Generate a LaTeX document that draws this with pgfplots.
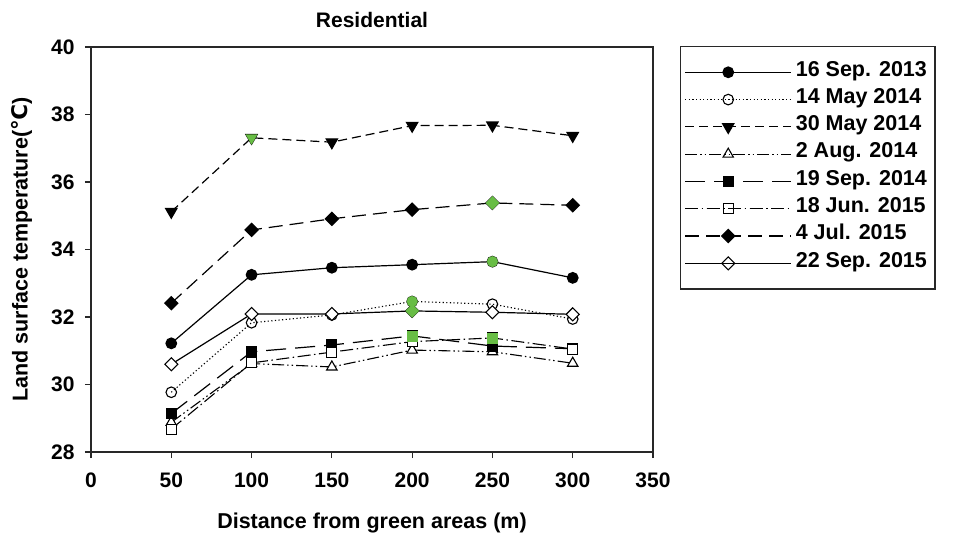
\documentclass[border=0pt]{standalone}
\usepackage{pgfplots}
\pgfplotsset{compat=1.18}
\usepackage{fontspec}
\setmainfont{Liberation Sans}
\newfontfamily\dejavu{DejaVu Sans}
\definecolor{lgreen}{RGB}{104,189,69}
\definecolor{axgray}{RGB}{40,40,40}
\begin{document}
\begin{tikzpicture}
\useasboundingbox (-91pt,-84pt) rectangle (869pt,452pt);
\begin{axis}[
  scale only axis, width=562pt, height=405pt,
  at={(0pt,0pt)}, anchor=south west,
  xmin=0, xmax=350, ymin=28, ymax=40,
  xtick={0,50,...,350}, ytick={28,30,...,40},
  axis line style={line width=1.3pt, axgray},
  tick style={line width=1.1pt, axgray},
  tick align=outside, xtick pos=bottom, ytick pos=left,
  major tick length=6pt,
  /pgf/number format/assume math mode=true,
  ticklabel style={font=\fontsize{21}{25}\selectfont\bfseries},
  xticklabel style={yshift=-11pt},
  yticklabel style={xshift=-7pt},
  xlabel={Distance from green areas (m)},
  ylabel={Land surface temperature({\dejavu\bfseries ℃})},
  label style={font=\fontsize{21.5}{25}\selectfont\bfseries},
  xlabel style={at={(axis description cs:0.5,-0.176)}, anchor=center},
  ylabel style={at={(axis description cs:-0.123,0.5)}, anchor=center},
  title={Residential},
  title style={font=\fontsize{21}{25}\selectfont\bfseries, at={(axis description cs:0.5,1)}, anchor=center, yshift=21pt},
  legend style={at={(axis description cs:1.048,1.0025)}, anchor=north west,
    draw=axgray, line width=1.3pt, inner xsep=4pt, inner ysep=12pt,
    font=\fontsize{21.5}{25}\selectfont\bfseries,
    nodes={text height=15pt, text depth=7.5pt, inner ysep=2.4pt, inner xsep=4pt},
    row sep=0pt},
  legend cell align=left,
  legend image code/.code={\draw[#1, mark repeat=2, mark phase=2] plot coordinates {(0pt,0pt) (43pt,0pt) (86pt,0pt)};
    \path (0pt,0pt) -- (106pt,0pt);},
  clip=false,
]
% 16 Sep 2013
\addplot[black, line width=1.2pt, solid, mark=*, mark size=5.3pt, mark options={solid}]
  coordinates {(50,31.22) (100,33.25) (150,33.46) (200,33.55) (250,33.64) (300,33.16)};
\addlegendentry{16 Sep. 2013}
% 14 May 2014
\addplot[black, line width=1.1pt, dash pattern=on 1.2pt off 2.4pt, mark=o, mark size=5.3pt, mark options={solid, fill=white, line width=1.1pt}]
  coordinates {(50,29.77) (100,31.83) (150,32.06) (200,32.46) (250,32.38) (300,31.94)};
\addlegendentry{14 May 2014}
% 30 May 2014
\addplot[black, line width=1.2pt, dash pattern=on 9pt off 5pt, mark=triangle*, mark size=6.5pt, mark options={solid, rotate=180}]
  coordinates {(50,35.12) (100,37.31) (150,37.18) (200,37.67) (250,37.68) (300,37.37)};
\addlegendentry{30 May 2014}
% 2 Aug 2014
\addplot[black, line width=1.1pt, dash pattern=on 12pt off 3pt on 1.5pt off 3pt on 1.5pt off 3pt, mark=triangle*, mark size=6pt, mark options={solid, fill=white, line width=1.1pt}]
  coordinates {(50,28.88) (100,30.62) (150,30.52) (200,31.02) (250,30.97) (300,30.63)};
\addlegendentry{2 Aug. 2014}
% 19 Sep 2014
\addplot[black, line width=1.2pt, dash pattern=on 20pt off 9pt, mark=square*, mark size=5pt, mark options={solid}]
  coordinates {(50,29.14) (100,30.97) (150,31.17) (200,31.44) (250,31.14) (300,31.06)};
\addlegendentry{19 Sep. 2014}
% 18 Jun 2015
\addplot[black, line width=1.1pt, dash pattern=on 13pt off 3.5pt on 1.5pt off 3.5pt, mark=square*, mark size=5pt, mark options={solid, fill=white, line width=1.1pt}]
  coordinates {(50,28.68) (100,30.64) (150,30.96) (200,31.27) (250,31.38) (300,31.05)};
\addlegendentry{18 Jun. 2015}
% 4 Jul 2015
\addplot[black, line width=1.2pt, dash pattern=on 14pt off 7pt, mark=square*, mark size=4.6pt, mark options={solid, rotate=45}]
  coordinates {(50,32.41) (100,34.58) (150,34.91) (200,35.18) (250,35.38) (300,35.31)};
\addlegendentry{4 Jul. 2015}
% 22 Sep 2015
\addplot[black, line width=1.2pt, solid, mark=square*, mark size=4.6pt, mark options={solid, rotate=45, fill=white, line width=1.1pt}]
  coordinates {(50,30.60) (100,32.09) (150,32.09) (200,32.18) (250,32.14) (300,32.08)};
\addlegendentry{22 Sep. 2015}
% highlighted points (green)
\addplot[forget plot, only marks, lgreen, mark=triangle*, mark size=6.5pt, mark options={rotate=180, draw=lgreen, fill=lgreen}]
  coordinates {(100,37.31)};
\addplot[forget plot, only marks, lgreen, mark=*, mark size=5.3pt, mark options={draw=lgreen, fill=lgreen}]
  coordinates {(250,33.64) (200,32.46)};
\addplot[forget plot, only marks, lgreen, mark=square*, mark size=4.6pt, mark options={rotate=45, draw=lgreen, fill=lgreen}]
  coordinates {(250,35.38) (200,32.18)};
\addplot[forget plot, only marks, lgreen, mark=square*, mark size=5pt, mark options={draw=lgreen, fill=lgreen}]
  coordinates {(200,31.44) (250,31.38)};
\end{axis}
\end{tikzpicture}
\end{document}
